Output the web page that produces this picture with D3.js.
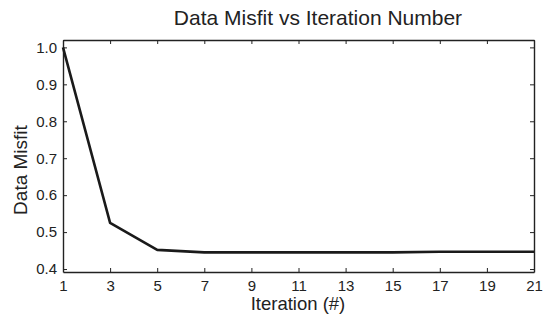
<!DOCTYPE html>
<html>
<head>
<meta charset="utf-8">
<script src="https://cdn.jsdelivr.net/npm/d3@7"></script>
<style>
  body { margin: 0; background: #fff; }
  text { font-family: "Liberation Sans", Arial, sans-serif; fill: #222; }
</style>
</head>
<body>
<div id="chart"></div>
<script>
const iterations = [1, 3, 5, 7, 9, 11, 13, 15, 17, 19, 21];
const misfit = [1.0, 0.525, 0.452, 0.445, 0.445, 0.445, 0.445, 0.445, 0.447, 0.447, 0.447];
const xTicks = [1, 3, 5, 7, 9, 11, 13, 15, 17, 19, 21];
const yTicks = [0.4, 0.5, 0.6, 0.7, 0.8, 0.9, 1.0];

const W = 543, H = 321;
const margin = { top: 40, right: 9, bottom: 49, left: 63 };
const width = W - margin.left - margin.right;
const height = H - margin.top - margin.bottom;

const svg = d3.select("#chart").append("svg")
  .attr("width", W).attr("height", H);
const g = svg.append("g").attr("transform", `translate(${margin.left},${margin.top})`);

const x = d3.scaleLinear().domain([1, 21]).range([0, width]);
const y = d3.scaleLinear().domain([0.392, 1.02]).range([height, 0]);

// box with inward ticks on all sides
g.append("g").attr("transform", `translate(0,${height})`)
  .call(d3.axisBottom(x).tickValues(xTicks).tickSizeInner(-4).tickSizeOuter(0).tickPadding(8));
g.append("g")
  .call(d3.axisTop(x).tickValues(xTicks).tickSizeInner(-4).tickSizeOuter(0).tickFormat(""));
g.append("g")
  .call(d3.axisLeft(y).tickValues(yTicks).tickFormat(d3.format(".1f")).tickSizeInner(-4).tickSizeOuter(0).tickPadding(6));
g.append("g").attr("transform", `translate(${width},0)`)
  .call(d3.axisRight(y).tickValues(yTicks).tickSizeInner(-4).tickSizeOuter(0).tickFormat(""));

g.selectAll(".domain").attr("stroke", "#222").attr("stroke-width", 1.4);
g.selectAll(".tick line").attr("stroke", "#222");
g.selectAll(".tick text").style("font-size", "15px").attr("fill", "#222");

const line = d3.line().x((d, i) => x(iterations[i])).y(d => y(d));
g.append("path").datum(misfit)
  .attr("d", line)
  .attr("fill", "none")
  .attr("stroke", "#1a1a1a")
  .attr("stroke-width", 2.6)
  .attr("stroke-linejoin", "round");

svg.append("text").attr("x", 318).attr("y", 25)
  .attr("text-anchor", "middle").style("font-size", "21px")
  .text("Data Misfit vs Iteration Number");
svg.append("text").attr("x", 298).attr("y", 310)
  .attr("text-anchor", "middle").style("font-size", "18.5px")
  .text("Iteration (#)");
svg.append("text").attr("transform", `translate(27,170) rotate(-90)`)
  .attr("text-anchor", "middle").style("font-size", "19px")
  .text("Data Misfit");
</script>
</body>
</html>
